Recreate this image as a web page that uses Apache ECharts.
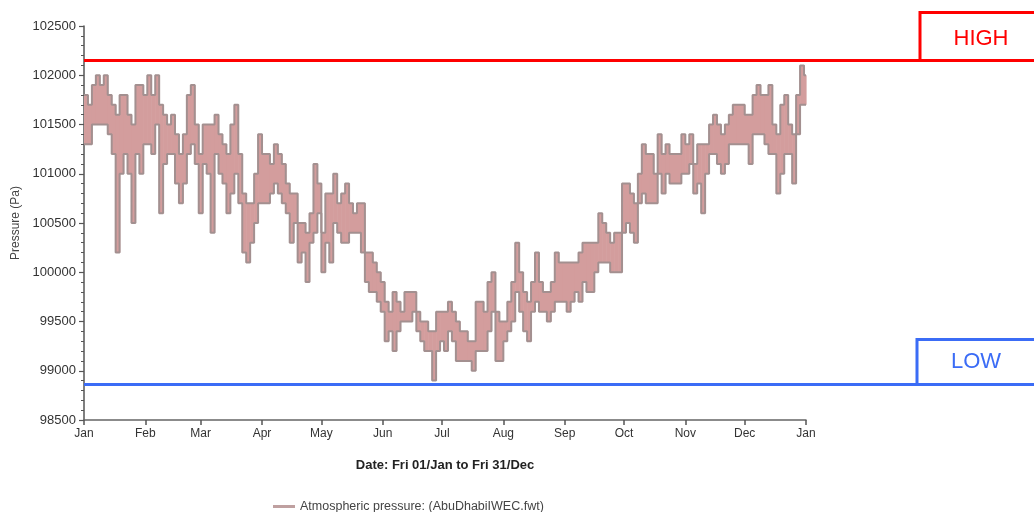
<!DOCTYPE html>
<html><head><meta charset="utf-8">
<script src="https://cdn.jsdelivr.net/npm/echarts@6/dist/echarts.min.js"></script>
<style>html,body{margin:0;padding:0;background:#fff}#c{width:1034px;height:512px}</style>
</head><body><div id="c"></div>
<script>
// ---- data ----
const monthLabels = ['Jan','Feb','Mar','Apr','May','Jun','Jul','Aug','Sep','Oct','Nov','Dec','Jan'];
const monthStartDays = [0,31,59,90,120,151,181,212,243,273,304,334,365];
const yMin = 98500, yMax = 102500, yStep = 500;
const BIN_DAYS = 2;           // each value below is the range over a 2-day span
const YEAR_DAYS = 365;
const binHigh = [
 101800,101700,101900,102000,101900,102000,101800,101700,101600,101800,
 101800,101600,101500,101900,101900,101800,102000,101800,102000,101700,
 101600,101500,101600,101400,101200,101400,101800,101900,101500,101200,
 101500,101500,101500,101600,101400,101300,101200,101500,101700,101200,
 100800,100700,100700,101000,101400,101200,
 101200,101100,101300,101200,
 101100,100900,100800,100800,100500,100500,100400,100600,101100,100900,
 100400,100800,100800,101000,100700,100800,100900,100700,100600,100700,
 100700,100200,100200,100100,100000,99900,99700,99600,99800,99700,
 99600,99800,99800,99800,99600,99500,99500,99400,99400,99600,99600,
 99600,99700,99600,99500,99400,99400,99300,99300,99700,99700,
 99600,99900,100000,99600,99500,99500,99700,99900,100300,100000,
 99800,99700,99900,100200,99900,99800,99800,99900,100200,100100,
 100100,100100,100100,100100,100200,100300,100300,100300,100300,100600,
 100500,100400,100300,100400,100400,100900,
 100900,100800,100700,101000,101300,101200,101200,101000,101400,101200,
 101300,101200,101200,101200,101400,101300,101400,101100,101300,101300,
 101300,101500,101600,101500,101400,101500,101600,101700,101700,101700,
 101600,101600,101800,101900,101800,101800,101900,101500,101400,101700,
 101800,101500,101400,101800,102100,102000
];
const binLow = [
 101300,101300,101500,101500,101500,101500,101400,101200,100200,101000,
 101200,101000,100500,101200,101000,101300,101300,101200,101500,100600,
 101100,101200,101200,100900,100700,100900,101200,101300,101100,100600,
 101100,101000,100400,101200,101000,100900,100600,100800,101000,100700,
 100200,100100,100300,100500,100700,100700,
 100700,100800,100900,100800,
 100700,100600,100300,100500,100100,100200,99900,100300,100400,100600,
 100000,100300,100100,100500,100400,100300,100300,100400,100400,100400,
 100200,99900,99800,99800,99700,99600,99300,99400,99200,99400,
 99500,99500,99500,99600,99400,99300,99200,99200,98900,99200,99300,
 99200,99400,99300,99100,99100,99100,99100,99000,99200,99200,
 99200,99400,99600,99100,99100,99300,99400,99500,99800,99600,
 99400,99300,99600,99700,99600,99600,99500,99600,99700,99700,
 99700,99600,99700,99800,99700,99900,99800,99800,100000,100100,
 100100,100100,100000,100000,100000,100400,
 100500,100400,100300,100700,100800,100700,100700,100700,101000,100800,
 101000,100900,100900,100900,101000,101000,101100,100800,100900,100600,
 101000,101200,101200,101100,101000,101100,101300,101300,101300,101300,
 101300,101100,101400,101400,101400,101300,101200,101200,100800,101000,
 101200,101200,100900,101400,101700,101700
];
const highThreshold = 102150;
const lowThreshold = 98860;
const seriesName = 'Atmospheric pressure: (AbuDhabiIWEC.fwt)';
const xAxisTitle = 'Date: Fri 01/Jan to Fri 31/Dec';
const yAxisTitle = 'Pressure (Pa)';

// ---- build series data ----
const binStart = i => i * BIN_DAYS;
const bandData = binHigh.map((v, i) => [binStart(i), binLow[i], v]);
const highLine = binHigh.map((v, i) => [binStart(i), v]);
const lowLine = binLow.map((v, i) => [binStart(i), v]);
highLine.push([YEAR_DAYS, binHigh[binHigh.length - 1]]);
lowLine.push([YEAR_DAYS, binLow[binLow.length - 1]]);

const FONT = 'Liberation Sans, Arial, sans-serif';
const FILL = '#d39d9d', EDGE = '#a39090';
const chart = echarts.init(document.getElementById('c'), null, {renderer: 'canvas'});
chart.setOption({
  animation: false,
  backgroundColor: '#fff',
  textStyle: {fontFamily: FONT},
  grid: {left: 84, right: 228, top: 26, bottom: 92},
  legend: {
    data: [{name: seriesName, icon: 'rect'}],
    left: 268, top: 495,
    itemWidth: 22, itemHeight: 3, itemGap: 6,
    itemStyle: {color: '#bfa0a0'},
    textStyle: {fontFamily: FONT, fontSize: 12.5, color: '#444'}
  },
  xAxis: {
    type: 'value', min: 0, max: YEAR_DAYS,
    name: xAxisTitle, nameLocation: 'middle', nameGap: 39,
    nameTextStyle: {fontFamily: FONT, fontSize: 13, fontWeight: 'bold', color: '#222'},
    axisLine: {show: true, lineStyle: {color: '#666', width: 1.5}},
    axisTick: {show: true, customValues: monthStartDays, length: 5, lineStyle: {color: '#555', width: 1.5}},
    axisLabel: {customValues: monthStartDays, formatter: v => monthLabels[monthStartDays.indexOf(v)],
      fontFamily: FONT, fontSize: 12, color: '#333', margin: 8},
    splitLine: {show: false}
  },
  yAxis: {
    type: 'value', min: yMin, max: yMax, interval: yStep,
    name: yAxisTitle, nameLocation: 'middle', nameGap: 54, nameRotate: 90,
    nameTextStyle: {fontFamily: FONT, fontSize: 12, color: '#444'},
    axisLine: {show: true, lineStyle: {color: '#555', width: 1.5}},
    axisTick: {show: true, length: 5, lineStyle: {color: '#555', width: 1.2}},
    minorTick: {show: true, splitNumber: 5, length: 3, lineStyle: {color: '#555', width: 1}},
    axisLabel: {formatter: v => String(v), fontFamily: FONT, fontSize: 13, color: '#333', margin: 8},
    splitLine: {show: false}, minorSplitLine: {show: false}
  },
  series: [
    {
      name: 'band', type: 'custom', data: bandData, z: 2,
      encode: {x: 0, y: [1, 2]},
      renderItem: (params, api) => {
        const x0 = api.value(0);
        const x1 = Math.min(x0 + BIN_DAYS, YEAR_DAYS);
        const pTop = api.coord([x0, api.value(2)]);
        const pBot = api.coord([x1, api.value(1)]);
        return {type: 'rect',
          shape: {x: pTop[0], y: pTop[1], width: pBot[0] - pTop[0] + 0.6, height: pBot[1] - pTop[1]},
          style: {fill: FILL}};
      }
    },
    {
      name: seriesName, type: 'line', step: 'end', data: highLine,
      symbol: 'none', z: 3,
      lineStyle: {color: EDGE, width: 2},
      itemStyle: {color: '#bfa0a0'}
    },
    {
      name: 'low', type: 'line', step: 'end', data: lowLine,
      symbol: 'none', z: 3,
      lineStyle: {color: EDGE, width: 2},
      itemStyle: {color: EDGE}
    }
  ]
});

// ---- HIGH / LOW annotations, positioned through the axis scales ----
const xStart = chart.convertToPixel({xAxisIndex: 0}, 0);
const yHigh = chart.convertToPixel({yAxisIndex: 0}, highThreshold);
const yLow = chart.convertToPixel({yAxisIndex: 0}, lowThreshold);
const W = chart.getWidth();
const RED = '#ff0000', BLUE = '#3b6cf6';
chart.setOption({
  graphic: [
    {type: 'line', shape: {x1: xStart, y1: yHigh, x2: W, y2: yHigh}, style: {stroke: RED, lineWidth: 3}, z: 10},
    {type: 'rect', shape: {x: 920, y: yHigh - 48, width: 140, height: 48}, style: {fill: null, stroke: RED, lineWidth: 3}, z: 10},
    {type: 'text', x: 981, y: yHigh - 22, style: {text: 'HIGH', fill: RED, font: '22px ' + FONT, textAlign: 'center', textVerticalAlign: 'middle'}, z: 10},
    {type: 'line', shape: {x1: xStart, y1: yLow, x2: W, y2: yLow}, style: {stroke: BLUE, lineWidth: 3}, z: 10},
    {type: 'rect', shape: {x: 917, y: yLow - 45, width: 140, height: 45}, style: {fill: null, stroke: BLUE, lineWidth: 3}, z: 10},
    {type: 'text', x: 976, y: yLow - 23, style: {text: 'LOW', fill: BLUE, font: '22px ' + FONT, textAlign: 'center', textVerticalAlign: 'middle'}, z: 10}
  ]
});
</script>
</body></html>
